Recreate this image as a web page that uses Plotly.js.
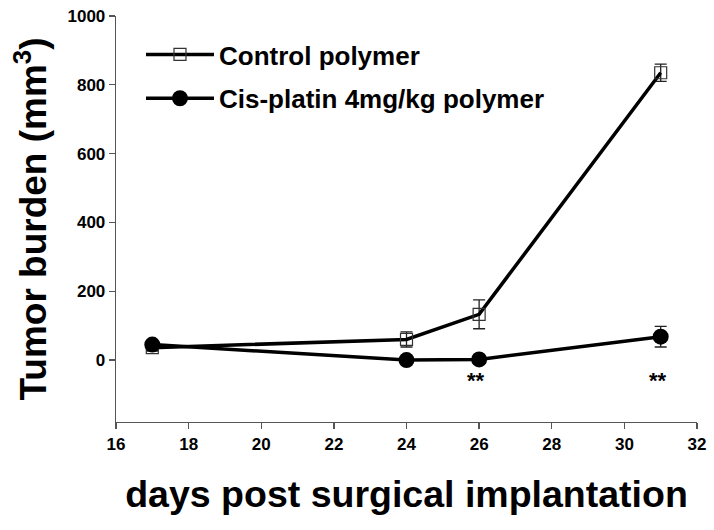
<!DOCTYPE html>
<html>
<head>
<meta charset="utf-8">
<script src="https://cdn.plot.ly/plotly-3.0.1.min.js"></script>
<style>html,body{margin:0;padding:0;background:#fff;}#chart{width:714px;height:530px;}</style>
</head>
<body>
<div id="chart"></div>
<script>
const days = [17, 24, 26, 31];
const controlMean = [36, 60, 133, 835];
const controlErr = [10, 22, 42, 25];
const cisMean = [45, 0, 2, 68];
const cisErr = [6, 6, 5, 30];
const xTicks = [16, 18, 20, 22, 24, 26, 28, 30, 32];
const yTicks = [0, 200, 400, 600, 800, 1000];
const sigDays = [26, 31];
const sigLabel = "**";

const font = "Liberation Sans, Arial, sans-serif";

const traces = [
  {
    x: days, y: controlMean, name: "<b>Control polymer</b>", legendgroup: "a",
    type: "scatter", mode: "lines+markers",
    line: {color: "#000", width: 3.5},
    marker: {symbol: "square-open", size: 12, color: "#333", line: {width: 1.2, color: "#333"}},
    error_y: {type: "data", array: controlErr, visible: true, color: "#222", thickness: 1.3, width: 6}
  },
  {
    x: days, y: cisMean, name: "<b>Cis-platin 4mg/kg polymer</b>", legendgroup: "b",
    type: "scatter", mode: "lines+markers",
    line: {color: "#000", width: 3.5},
    marker: {symbol: "circle", size: 16, color: "#000"},
    error_y: {type: "data", array: cisErr, visible: true, color: "#222", thickness: 1.3, width: 6}
  }
];

const annotations = sigDays.map(d => ({
  x: d, y: -60, xref: "x", yref: "y", xshift: -3, text: "<b>" + sigLabel + "</b>", showarrow: false,
  font: {family: font, size: 22, color: "#000"}
}));

const layout = {
  width: 714, height: 530,
  margin: {l: 116, r: 17, t: 16, b: 108},
  paper_bgcolor: "#fff", plot_bgcolor: "#fff",
  showlegend: true,
  legend: {x: 0.043, y: 0.963, xanchor: "left", yanchor: "top", bgcolor: "rgba(0,0,0,0)",
    font: {family: font, size: 26, color: "#000"}, itemwidth: 68, tracegroupgap: 7},
  xaxis: {
    range: [16, 32], tickvals: xTicks, ticktext: xTicks.map(v => "<b>" + v + "</b>"),
    showline: true, linecolor: "#555", linewidth: 1.3, mirror: false,
    ticks: "outside", ticklen: 6, tickcolor: "#555", tickwidth: 1.3,
    showgrid: false, zeroline: false,
    tickfont: {family: font, size: 17, color: "#000"},
    title: {text: "<b>days post surgical implantation</b>", font: {family: font, size: 37.5, color: "#000"}, standoff: 28}
  },
  yaxis: {
    range: [-180, 1000], tickvals: yTicks, ticktext: yTicks.map(v => "<b>" + v + "</b>"),
    showline: true, linecolor: "#555", linewidth: 1.3, mirror: false,
    ticks: "outside", ticklen: 6, tickcolor: "#555", tickwidth: 1.3,
    showgrid: false, zeroline: false,
    tickfont: {family: font, size: 17, color: "#000"},
    title: {text: "<b>Tumor burden (mm<sup>3</sup>)</b>", font: {family: font, size: 37, color: "#000"}, standoff: 9}
  },
  annotations: annotations
};

Plotly.newPlot("chart", traces, layout, {displayModeBar: false, staticPlot: true});
</script>
</body>
</html>
